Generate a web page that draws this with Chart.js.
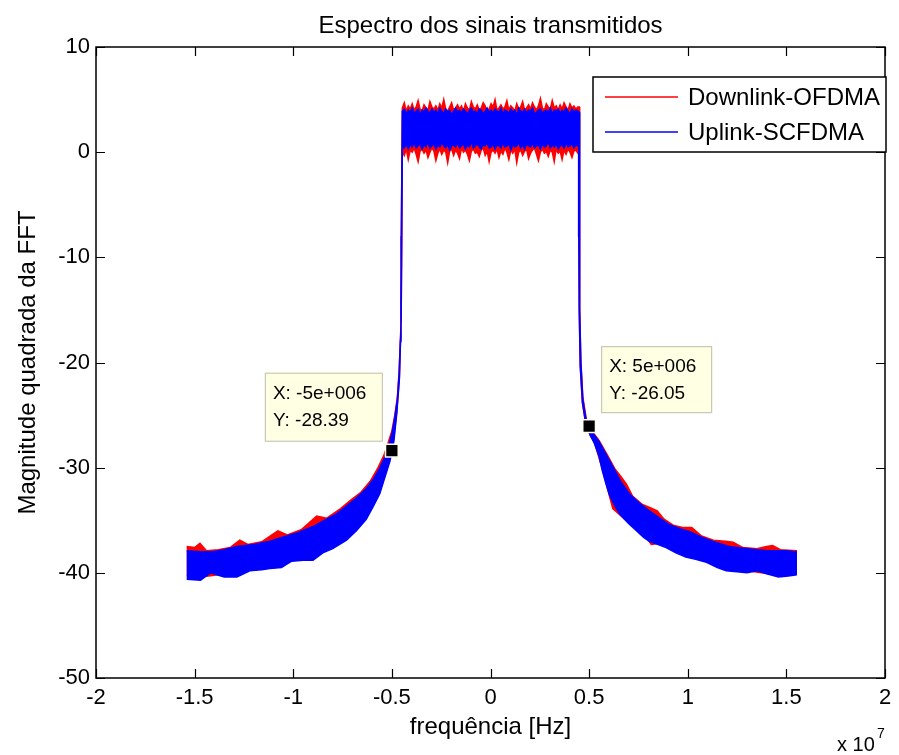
<!DOCTYPE html>
<html><head><meta charset="utf-8">
<script src="https://cdn.jsdelivr.net/npm/chart.js@4/dist/chart.umd.min.js"></script>
<style>html,body{margin:0;padding:0;background:#fff;}canvas{display:block;}</style>
</head><body>
<canvas id="c" width="899" height="755"></canvas>
<script>
// ---- tick values / labels ----
const xTickValues = [-2e7,-1.5e7,-1e7,-0.5e7,0,0.5e7,1e7,1.5e7,2e7];
const xTickLabels = ['-2','-1.5','-1','-0.5','0','0.5','1','1.5','2'];
const yTickValues = [10,0,-10,-20,-30,-40,-50];
const seriesNames = ['Downlink-OFDMA','Uplink-SCFDMA'];

// ---- passband (MHz) and envelopes (dB) ----
const passbandMHz = [-4.47,-4.37,-4.27,-4.17,-4.07,-3.97,-3.87,-3.77,-3.67,-3.57,-3.47,-3.37,-3.27,-3.17,-3.07,-2.97,-2.87,-2.77,-2.67,-2.57,-2.47,-2.37,-2.27,-2.17,-2.07,-1.97,-1.87,-1.77,-1.67,-1.57,-1.47,-1.37,-1.27,-1.17,-1.07,-0.97,-0.87,-0.77,-0.67,-0.57,-0.47,-0.37,-0.27,-0.17,-0.07,0.03,0.13,0.23,0.33,0.43,0.53,0.63,0.73,0.83,0.93,1.03,1.13,1.23,1.33,1.43,1.53,1.63,1.73,1.83,1.93,2.03,2.13,2.23,2.33,2.43,2.53,2.63,2.73,2.83,2.93,3.03,3.13,3.23,3.33,3.43,3.53,3.63,3.73,3.83,3.93,4.03,4.13,4.23,4.33,4.43];
const redTopDb = [4.2,4.7,3.9,4.4,4.1,4.6,4.0,4.3,4.9,4.1,3.9,4.5,4.2,4.0,4.8,4.3,4.1,4.4,4.0,4.6,4.2,5.0,4.1,3.9,4.3,4.7,4.0,4.2,4.5,4.1,4.4,3.9,4.6,4.2,4.0,4.8,4.3,4.1,4.5,4.0,4.2,4.7,4.4,3.9,4.1,4.6,4.3,5.0,4.0,4.2,4.5,4.1,4.3,4.9,4.0,4.4,4.2,3.9,4.6,4.1,4.3,4.8,4.0,4.2,4.5,4.1,4.7,4.3,4.0,4.4,5.1,4.2,4.0,4.6,4.3,4.1,4.9,4.2,4.4,4.0,4.5,4.1,4.7,4.3,4.0,4.6,4.2,4.4,4.1,4.3];
const redBottomDb = [0.1,-0.3,0.3,-0.7,0.2,0.0,0.4,-0.2,-0.9,0.1,0.3,-0.1,0.2,-0.5,0.0,0.4,0.1,-0.8,-0.1,0.3,-0.2,0.2,0.0,-1.0,0.1,0.3,-0.3,0.2,-0.1,-0.6,0.4,0.0,0.2,-0.2,-0.8,0.1,0.3,-0.1,0.0,-0.4,0.2,0.4,-0.3,0.1,-0.9,0.0,0.2,-0.1,0.3,-0.5,0.1,-0.2,0.4,0.0,-0.7,0.2,-0.1,0.3,-1.0,0.0,0.2,-0.3,0.1,0.3,-0.6,-0.1,0.2,0.4,-0.2,-0.8,0.0,0.3,-0.1,0.1,-0.4,0.2,0.0,-0.9,0.3,-0.1,0.1,-0.7,0.2,-0.2,0.3,0.0,-0.5,0.1,0.2,-0.1];
const blueTopDb = [3.9,4.1,3.6,4.0,3.8,4.2,3.7,3.9,4.1,3.5,4.0,3.8,4.2,3.9,3.7,4.1,3.8,4.0,3.6,4.2,3.9,3.7,4.1,3.8,4.0,3.5,3.9,4.2,3.8,4.0,3.7,4.1,3.9,3.6,4.0,4.2,3.8,3.9,3.7,4.1,4.0,3.6,3.9,4.2,3.8,4.0,3.7,4.1,3.9,3.8,4.2,3.6,4.0,3.9,3.7,4.1,3.8,4.0,3.5,4.2,3.9,3.8,4.1,3.7,4.0,3.9,4.2,3.6,3.8,4.0,4.1,3.7,3.9,4.0,3.8,4.2,3.6,4.0,3.9,4.1,3.7,4.0,3.8,4.2,3.9,3.6,4.1,3.8,4.0,3.9];
const blueBottomDb = [0.6,0.4,0.8,0.3,0.7,0.5,0.9,0.4,0.6,0.8,0.3,0.7,0.5,1.0,0.4,0.6,0.8,0.3,0.7,0.5,0.9,0.6,0.4,0.8,0.2,0.6,0.7,0.5,0.9,0.4,0.6,0.8,0.3,0.7,0.5,1.0,0.4,0.6,0.8,0.5,0.3,0.7,0.6,0.9,0.4,0.5,0.8,0.3,0.7,0.6,0.4,0.9,0.5,0.6,0.8,0.2,0.7,0.5,0.6,0.9,0.4,0.7,0.3,0.8,0.6,0.5,0.9,0.4,0.6,0.7,0.3,0.8,0.5,0.6,1.0,0.4,0.7,0.5,0.8,0.3,0.6,0.7,0.4,0.9,0.5,0.6,0.8,0.4,0.7,0.6];

// ---- skirts: [MHz, dB] envelope points (ascending frequency) ----
const blueLeftUpper = [[-15.40,-37.9],[-14.7,-38.0],[-14.08,-38.0],[-13.5,-37.8],[-12.86,-37.5],[-12.0,-37.3],[-11.19,-37.0],[-10.5,-36.6],[-9.8,-36.2],[-9.0,-35.6],[-8.4,-35.0],[-7.8,-34.4],[-7.3,-33.65],[-6.8,-32.9],[-6.3,-32.0],[-5.9,-31.0],[-5.6,-30.0],[-5.35,-29.0],[-5.15,-27.9],[-5.0,-26.8],[-4.85,-25.2],[-4.72,-23.5],[-4.63,-21.0],[-4.57,-18.0],[-4.54,-14.5],[-4.52,-8.0]];
const blueLeftLower = [[-15.40,-40.6],[-14.7,-40.7],[-14.2,-40.0],[-13.5,-40.4],[-12.86,-40.4],[-12.2,-39.8],[-11.6,-39.7],[-11.19,-39.6],[-10.6,-39.5],[-10.1,-38.9],[-9.5,-38.8],[-9.0,-38.8],[-8.5,-38.1],[-8.0,-37.7],[-7.3,-36.9],[-6.8,-36.0],[-6.3,-34.9],[-5.95,-33.7],[-5.62,-32.5],[-5.35,-30.9],[-5.1,-29.4],[-4.9,-27.5],[-4.75,-24.8],[-4.62,-21.6],[-4.53,-15.9],[-4.50,-8.0]];
const blueRightUpper = [[4.50,3.8],[4.51,-8.0],[4.53,-15.0],[4.58,-20.0],[4.68,-23.5],[4.85,-25.5],[5.1,-26.5],[5.5,-27.5],[5.85,-28.7],[6.2,-29.9],[6.6,-31.3],[7.05,-32.5],[7.5,-33.3],[7.9,-33.9],[8.5,-34.7],[9.05,-35.4],[9.6,-35.8],[10.1,-36.1],[10.7,-36.6],[11.25,-37.0],[12.1,-37.5],[13.0,-37.7],[14.0,-37.9],[15.0,-37.9],[15.5,-38.0]];
const blueRightLower = [[4.47,0.5],[4.48,-8.0],[4.50,-15.0],[4.55,-20.3],[4.66,-23.8],[4.83,-25.8],[5.05,-26.9],[5.27,-27.7],[5.5,-28.9],[5.67,-30.3],[5.85,-31.5],[6.03,-32.6],[6.3,-33.6],[6.55,-34.4],[7.0,-35.3],[7.4,-36.0],[7.75,-36.6],[8.05,-37.0],[8.5,-37.3],[8.9,-37.6],[9.4,-38.1],[9.9,-38.5],[10.4,-38.7],[10.95,-39.0],[11.5,-39.5],[11.95,-39.8],[12.5,-39.9],[13.0,-40.0],[13.5,-39.8],[14.0,-40.1],[14.6,-40.4],[15.1,-40.3],[15.5,-40.2]];

const redLeftUpper = [[-15.40,-37.5],[-15.0,-37.6],[-14.73,-37.2],[-14.4,-37.9],[-13.8,-37.8],[-13.2,-37.6],[-12.71,-36.9],[-12.3,-37.3],[-11.6,-37.05],[-10.78,-36.0],[-10.3,-36.4],[-9.6,-35.9],[-8.81,-34.6],[-8.3,-34.8],[-7.6,-33.9],[-7.1,-33.1],[-6.6,-32.4],[-6.1,-31.3],[-5.7,-30.0],[-5.4,-28.8],[-5.2,-27.7],[-5.0,-26.5],[-4.85,-25.0],[-4.72,-23.3],[-4.63,-20.8],[-4.57,-17.8],[-4.54,-14.3],[-4.52,-8.0]];
const redLeftLower = [[-15.40,-40.3],[-14.7,-40.4],[-13.5,-40.1],[-12.86,-40.1],[-11.6,-39.4],[-10.6,-39.2],[-9.5,-38.5],[-8.5,-37.8],[-7.3,-36.6],[-6.3,-34.6],[-5.62,-32.2],[-5.1,-29.1],[-4.9,-27.2],[-4.75,-24.6],[-4.62,-21.4],[-4.53,-15.7],[-4.50,-8.0]];
const redRightUpper = [[4.50,4.3],[4.51,-8.0],[4.53,-14.8],[4.58,-19.8],[4.68,-23.3],[4.85,-25.3],[5.1,-26.4],[5.5,-27.4],[5.9,-28.7],[6.3,-30.1],[6.6,-30.8],[6.9,-31.6],[7.2,-32.7],[7.7,-33.5],[8.1,-33.8],[8.45,-34.1],[8.8,-34.9],[9.3,-35.5],[9.8,-35.7],[10.2,-35.7],[10.7,-36.5],[11.3,-36.9],[11.9,-37.0],[12.3,-37.1],[12.8,-37.6],[13.5,-37.7],[14.0,-37.5],[14.3,-37.4],[14.7,-37.8],[15.5,-37.9]];
const redRightLower = [[4.47,0.2],[4.48,-8.0],[4.50,-15.0],[4.55,-20.3],[4.66,-23.8],[4.83,-25.8],[5.05,-26.9],[5.27,-27.6],[5.67,-30.1],[5.95,-32.1],[6.2,-33.9],[6.45,-34.3],[6.8,-34.9],[7.4,-35.8],[7.9,-36.6],[8.15,-37.3],[8.5,-37.2],[9.0,-37.4],[10.0,-38.3],[11.0,-38.8],[12.0,-39.6],[13.0,-39.8],[14.6,-40.2],[15.5,-40.1]];

// ---- data tips ----
const tipFreq = [-5e6, 5e6];
const tipDb = [-28.39, -26.05];
const tipLines = [['X: -5e+006','Y: -28.39'],['X: 5e+006','Y: -26.05']];

// ---- build band outlines ----
function pts(list){ return list.map(p => ({x: p[0]*1e6, y: p[1]})); }
function pbPts(vals){ return passbandMHz.map((f,i) => ({x: f*1e6, y: vals[i]})); }
function outline(lu, top, ru, ll, bottom, rl){
  const upper = pts(lu).concat(pbPts(top), pts(ru));
  const lower = pts(ll).concat(pbPts(bottom), pts(rl));
  return upper.concat(lower.reverse());
}
const redShape = outline(redLeftUpper, redTopDb, redRightUpper, redLeftLower, redBottomDb, redRightLower);
const blueShape = outline(blueLeftUpper, blueTopDb, blueRightUpper, blueLeftLower, blueBottomDb, blueRightLower);

const FONT = "'Liberation Sans', Arial, sans-serif";

const decor = {
  id: 'decor',
  afterDatasetsDraw(chart){
    const {ctx, chartArea: a, scales: {x, y}} = chart;
    ctx.save();
    ctx.strokeStyle = '#000'; ctx.lineWidth = 1.5;
    ctx.strokeRect(a.left, a.top, a.right - a.left, a.bottom - a.top);
    ctx.beginPath();
    xTickValues.forEach(v => {
      const px = Math.round(x.getPixelForValue(v)) + 0.5;
      ctx.moveTo(px, a.bottom); ctx.lineTo(px, a.bottom - 9);
      ctx.moveTo(px, a.top); ctx.lineTo(px, a.top + 9);
    });
    yTickValues.forEach(v => {
      const py = Math.round(y.getPixelForValue(v)) + 0.5;
      ctx.moveTo(a.left, py); ctx.lineTo(a.left + 9, py);
      ctx.moveTo(a.right, py); ctx.lineTo(a.right - 9, py);
    });
    ctx.lineWidth = 1.2; ctx.stroke();

    ctx.font = '19px ' + FONT; ctx.textBaseline = 'middle'; ctx.textAlign = 'left';
    tipFreq.forEach((f, i) => {
      const mx = x.getPixelForValue(f), my = y.getPixelForValue(tipDb[i]);
      let bx, by, bw, bh;
      if (i === 0){ bw = 117; bh = 68; bx = mx - 10 - bw; by = my - 10 - bh; }
      else { bw = 110; bh = 66; bx = mx + 12; by = my - 14 - bh; }
      ctx.fillStyle = '#ffffe3';
      ctx.fillRect(bx, by, bw, bh);
      ctx.strokeStyle = '#c8c8b4'; ctx.lineWidth = 1.2;
      ctx.strokeRect(bx + 0.5, by + 0.5, bw, bh);
      ctx.fillStyle = '#000';
      ctx.fillText(tipLines[i][0], bx + 8, by + 21);
      ctx.fillText(tipLines[i][1], bx + 8, by + 48);
    });

    const lx = a.right - 292, ly = a.top + 30, lw = 293, lh = 75;
    ctx.fillStyle = '#fff'; ctx.fillRect(lx, ly, lw, lh);
    ctx.strokeStyle = '#000'; ctx.lineWidth = 1.5; ctx.strokeRect(lx, ly, lw, lh);
    const cols = ['#ff0000', '#0000ff'];
    ctx.font = '24px ' + FONT;
    seriesNames.forEach((n, i) => {
      const yy = ly + 20 + i * 35;
      ctx.strokeStyle = cols[i]; ctx.lineWidth = 1.5;
      ctx.beginPath(); ctx.moveTo(lx + 12, yy); ctx.lineTo(lx + 85, yy); ctx.stroke();
      ctx.fillStyle = '#000'; ctx.fillText(n, lx + 95, yy + 1);
    });
    ctx.restore();
  },
  afterDraw(chart){
    const {ctx, chartArea: a} = chart;
    ctx.save();
    ctx.fillStyle = '#000';
    ctx.font = '24px ' + FONT; ctx.textAlign = 'center'; ctx.textBaseline = 'middle';
    ctx.fillText('Espectro dos sinais transmitidos', (a.left + a.right) / 2, 26);
    ctx.textAlign = 'left'; ctx.textBaseline = 'alphabetic';
    ctx.font = '20px ' + FONT; ctx.fillText('x 10', a.right - 48, 751);
    ctx.font = '14px ' + FONT; ctx.fillText('7', a.right - 8, 738);
    ctx.restore();
  }
};

new Chart(document.getElementById('c'), {
  type: 'scatter',
  data: {
    datasets: [
      { label: seriesNames[0], data: redShape, showLine: true, fill: 'shape', borderColor: '#ff0000', backgroundColor: '#ff0000', borderWidth: 1.5, pointRadius: 0, tension: 0, order: 3 },
      { label: seriesNames[1], data: blueShape, showLine: true, fill: 'shape', borderColor: '#0000ff', backgroundColor: '#0000ff', borderWidth: 1.5, pointRadius: 0, tension: 0, order: 2 },
      { label: 'tips', data: tipFreq.map((f, i) => ({x: f, y: tipDb[i]})), showLine: false, pointStyle: 'rect', pointRadius: 9, backgroundColor: '#000', borderColor: '#fffff0', borderWidth: 1.5, order: 1 }
    ]
  },
  options: {
    responsive: false, animation: false, events: [],
    layout: { padding: { left: 0, top: 47, right: 14, bottom: 0 } },
    plugins: { legend: { display: false }, tooltip: { enabled: false }, title: { display: false } },
    scales: {
      x: {
        type: 'linear', min: -2e7, max: 2e7,
        afterBuildTicks: s => { s.ticks = xTickValues.map(v => ({value: v})); },
        afterFit: s => { s.height = 77; },
        ticks: { callback: (v) => xTickLabels[xTickValues.indexOf(v)], font: { size: 22, family: FONT }, color: '#000', padding: 7, maxRotation: 0, autoSkip: false },
        grid: { display: false, drawTicks: false }, border: { display: false },
        title: { display: true, text: 'frequência [Hz]', font: { size: 24, family: FONT }, color: '#000', padding: { top: 0, bottom: 13 } }
      },
      y: {
        type: 'linear', min: -50, max: 10,
        afterBuildTicks: s => { s.ticks = yTickValues.map(v => ({value: v})); },
        afterFit: s => { s.width = 96; },
        ticks: { font: { size: 22, family: FONT }, color: '#000', padding: 6 },
        grid: { display: false, drawTicks: false }, border: { display: false },
        title: { display: true, text: 'Magnitude quadrada da FFT', font: { size: 24, family: FONT }, color: '#000', padding: { top: 14, bottom: 0 } }
      }
    }
  },
  plugins: [decor]
});
</script>
</body></html>
